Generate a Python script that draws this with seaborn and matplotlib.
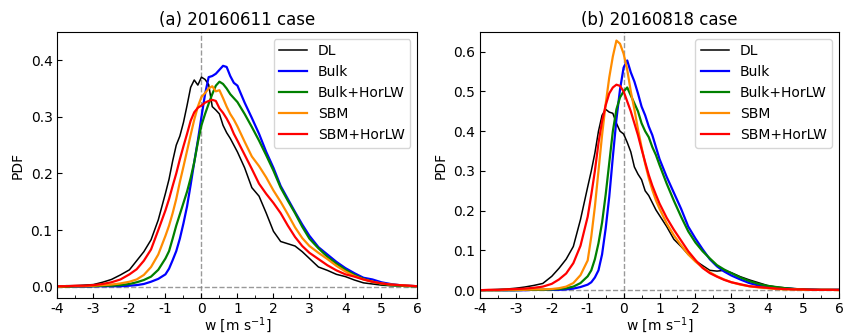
import matplotlib
matplotlib.use('Agg')
import matplotlib.pyplot as plt
from matplotlib.ticker import MultipleLocator
import seaborn as sns
import pandas as pd


# sampling positions of w [m s-1]
w = [-4, -3.75, -3.5, -3.25, -3, -2.75, -2.5, -2.25,
     -2, -1.8, -1.6, -1.4, -1.2,
     -1, -0.9, -0.8, -0.7, -0.6, -0.5, -0.4, -0.3, -0.2, -0.1, 0,
     0.1, 0.2, 0.3, 0.4, 0.5, 0.6, 0.7, 0.8, 0.9, 1,
     1.2, 1.4, 1.6, 1.8, 2, 2.2, 2.4, 2.6, 2.8, 3,
     3.25, 3.5, 3.75, 4, 4.25, 4.5, 4.75, 5, 5.25, 5.5, 5.75, 6]

labels = ['DL', 'Bulk', 'Bulk+HorLW', 'SBM', 'SBM+HorLW']
colors = ['black', 'blue', 'green', 'darkorange', 'red']
titles = ['(a) 20160611 case', '(b) 20160818 case']

# (a) 20160611
dl_a = [0.001, 0.002, 0.002, 0.003, 0.004, 0.008, 0.013, 0.021,
        0.030, 0.046, 0.062, 0.083, 0.118,
        0.165, 0.190, 0.222, 0.250, 0.266, 0.290, 0.320, 0.352, 0.365, 0.356, 0.370,
        0.366, 0.357, 0.318, 0.312, 0.305, 0.285, 0.272, 0.262, 0.250, 0.238,
        0.210, 0.175, 0.160, 0.130, 0.098, 0.080, 0.076, 0.072, 0.062, 0.050,
        0.035, 0.029, 0.022, 0.018, 0.012, 0.007, 0.005, 0.003, 0.002, 0.002, 0.001, 0.001]
bulk_a = [0.000, 0.000, 0.000, 0.000, 0.001, 0.001, 0.001, 0.001,
          0.002, 0.003, 0.005, 0.009, 0.014,
          0.022, 0.032, 0.047, 0.063, 0.085, 0.112, 0.142, 0.180, 0.220, 0.258, 0.300,
          0.340, 0.370, 0.372, 0.376, 0.383, 0.390, 0.388, 0.372, 0.360, 0.355,
          0.325, 0.298, 0.270, 0.238, 0.210, 0.178, 0.155, 0.132, 0.110, 0.090,
          0.070, 0.057, 0.044, 0.033, 0.024, 0.016, 0.013, 0.008, 0.005, 0.003, 0.002, 0.001]
bulkh_a = [0.000, 0.000, 0.001, 0.001, 0.001, 0.002, 0.002, 0.003,
           0.005, 0.008, 0.012, 0.018, 0.030,
           0.050, 0.063, 0.085, 0.108, 0.128, 0.148, 0.168, 0.192, 0.220, 0.255, 0.285,
           0.305, 0.323, 0.340, 0.355, 0.362, 0.358, 0.350, 0.340, 0.333, 0.326,
           0.305, 0.282, 0.258, 0.232, 0.205, 0.175, 0.152, 0.130, 0.106, 0.085,
           0.068, 0.053, 0.041, 0.030, 0.021, 0.014, 0.009, 0.005, 0.003, 0.002, 0.001, 0.001]
sbm_a = [0.000, 0.001, 0.001, 0.001, 0.002, 0.003, 0.004, 0.006,
         0.009, 0.013, 0.021, 0.035, 0.057,
         0.090, 0.108, 0.130, 0.155, 0.185, 0.212, 0.240, 0.268, 0.295, 0.318, 0.335,
         0.342, 0.350, 0.354, 0.345, 0.347, 0.333, 0.318, 0.305, 0.295, 0.283,
         0.256, 0.230, 0.213, 0.193, 0.170, 0.150, 0.128, 0.105, 0.086, 0.072,
         0.060, 0.049, 0.037, 0.027, 0.019, 0.013, 0.009, 0.006, 0.004, 0.003, 0.002, 0.001]
sbmh_a = [0.001, 0.001, 0.002, 0.002, 0.003, 0.005, 0.008, 0.013,
          0.022, 0.031, 0.046, 0.066, 0.100,
          0.135, 0.155, 0.178, 0.200, 0.225, 0.248, 0.270, 0.293, 0.308, 0.316, 0.320,
          0.325, 0.328, 0.330, 0.328, 0.315, 0.307, 0.297, 0.285, 0.270, 0.258,
          0.233, 0.208, 0.182, 0.164, 0.148, 0.130, 0.108, 0.088, 0.072, 0.060,
          0.049, 0.038, 0.029, 0.022, 0.018, 0.013, 0.009, 0.006, 0.004, 0.003, 0.002, 0.001]

# (b) 20160818
dl_b = [0.001, 0.001, 0.002, 0.003, 0.005, 0.008, 0.012, 0.017,
        0.035, 0.055, 0.078, 0.110, 0.178,
        0.260, 0.300, 0.345, 0.400, 0.440, 0.455, 0.448, 0.445, 0.420, 0.400, 0.393,
        0.372, 0.348, 0.310, 0.292, 0.278, 0.250, 0.238, 0.220, 0.202, 0.188,
        0.160, 0.128, 0.110, 0.090, 0.074, 0.062, 0.050, 0.048, 0.050, 0.044,
        0.034, 0.026, 0.019, 0.012, 0.008, 0.006, 0.004, 0.003, 0.002, 0.001, 0.001, 0.001]
bulk_b = [0.000, 0.000, 0.000, 0.000, 0.000, 0.000, 0.001, 0.001,
          0.001, 0.001, 0.002, 0.004, 0.008,
          0.014, 0.020, 0.032, 0.050, 0.090, 0.155, 0.235, 0.335, 0.430, 0.505, 0.560,
          0.578, 0.548, 0.525, 0.495, 0.462, 0.440, 0.412, 0.390, 0.360, 0.330,
          0.285, 0.245, 0.205, 0.160, 0.130, 0.103, 0.078, 0.060, 0.047, 0.037,
          0.027, 0.018, 0.012, 0.008, 0.006, 0.004, 0.003, 0.002, 0.002, 0.001, 0.001, 0.001]
bulkh_b = [0.000, 0.000, 0.000, 0.000, 0.000, 0.001, 0.001, 0.001,
           0.002, 0.003, 0.005, 0.009, 0.018,
           0.035, 0.050, 0.078, 0.118, 0.170, 0.240, 0.320, 0.400, 0.455, 0.485, 0.500,
           0.510, 0.490, 0.470, 0.450, 0.420, 0.400, 0.385, 0.360, 0.340, 0.315,
           0.268, 0.225, 0.185, 0.148, 0.120, 0.098, 0.080, 0.063, 0.052, 0.043,
           0.032, 0.023, 0.016, 0.011, 0.008, 0.005, 0.003, 0.002, 0.001, 0.001, 0.001, 0.001]
sbm_b = [0.000, 0.000, 0.000, 0.001, 0.001, 0.001, 0.002, 0.002,
         0.003, 0.005, 0.009, 0.018, 0.038,
         0.075, 0.135, 0.210, 0.300, 0.390, 0.468, 0.535, 0.588, 0.628, 0.620, 0.595,
         0.555, 0.500, 0.455, 0.405, 0.360, 0.318, 0.282, 0.252, 0.226, 0.205,
         0.168, 0.138, 0.113, 0.090, 0.072, 0.057, 0.045, 0.035, 0.027, 0.020,
         0.014, 0.010, 0.007, 0.005, 0.003, 0.002, 0.002, 0.001, 0.001, 0.001, 0.001, 0.000]
sbmh_b = [0.000, 0.001, 0.001, 0.002, 0.003, 0.004, 0.006, 0.009,
          0.016, 0.027, 0.042, 0.068, 0.112,
          0.185, 0.240, 0.300, 0.370, 0.425, 0.465, 0.495, 0.510, 0.517, 0.514, 0.500,
          0.475, 0.450, 0.420, 0.390, 0.355, 0.322, 0.290, 0.263, 0.240, 0.218,
          0.182, 0.152, 0.125, 0.098, 0.076, 0.056, 0.043, 0.034, 0.026, 0.020,
          0.015, 0.010, 0.008, 0.006, 0.004, 0.003, 0.002, 0.002, 0.001, 0.001, 0.001, 0.001]

panels = [[dl_a, bulk_a, bulkh_a, sbm_a, sbmh_a],
          [dl_b, bulk_b, bulkh_b, sbm_b, sbmh_b]]
ylims = [(-0.02, 0.45), (-0.02, 0.65)]


def plot_pdf():
    plt.rcParams['font.size'] = 10
    plt.rcParams['axes.unicode_minus'] = False
    plt.rcParams['xtick.direction'] = 'in'
    plt.rcParams['ytick.direction'] = 'in'

    fig = plt.figure(figsize=(8.45, 3.35), dpi=100)
    boxes = [[0.068, 0.11, 0.426, 0.795], [0.568, 0.11, 0.425, 0.795]]

    for i in range(2):
        ax = fig.add_axes(boxes[i])
        ax.axvline(0, color='gray', ls='--', lw=1, alpha=0.8, zorder=0)
        ax.axhline(0, color='gray', ls='--', lw=1, alpha=0.8, zorder=0)

        for name, col, vals in zip(labels, colors, panels[i]):
            df = pd.DataFrame({'w': w, 'pdf': vals})
            lw = 1.1 if name == 'DL' else 1.6
            sns.lineplot(data=df, x='w', y='pdf', color=col, lw=lw, label=name, ax=ax)

        ax.set_xlim(-4, 6)
        ax.set_ylim(*ylims[i])
        ax.set_xticks(range(-4, 7))
        ax.xaxis.set_minor_locator(MultipleLocator(0.5))
        ax.tick_params(axis='x', pad=3)
        ax.set_xlabel('w [m s$^{-1}$]', fontsize=10, labelpad=-1)
        ax.set_ylabel('PDF', fontsize=10)
        ax.set_title(titles[i], fontsize=12, pad=5)
        ax.legend(loc='upper right', fontsize=10)

    plt.savefig('out.png', dpi=100)


if __name__ == '__main__':
    plot_pdf()
